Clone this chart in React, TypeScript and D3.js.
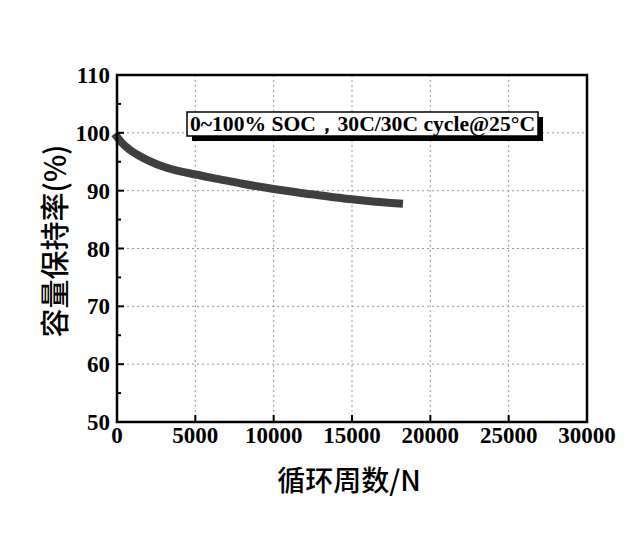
import React from "react";
import * as d3 from "d3";

// capacity retention curve
const cycles = [0, 300, 800, 1500, 2500, 3500, 5000, 6500, 8000, 10000, 11000, 12000, 13500, 15000, 16500, 18000];
const retention = [99.3, 98.3, 97.1, 95.9, 94.6, 93.7, 92.8, 92.0, 91.2, 90.3, 89.9, 89.5, 89.0, 88.5, 88.1, 87.8];

const xTicks = [0, 5000, 10000, 15000, 20000, 25000, 30000];
const yTicks = [50, 60, 70, 80, 90, 100, 110];
const yMinor = [55, 65, 75, 85, 95, 105];

const W = 637;
const H = 553;
const margin = { left: 117, right: 50, top: 75, bottom: 131 };

export default function App() {
  const x = d3.scaleLinear().domain([0, 30000]).range([margin.left, W - margin.right]);
  const y = d3.scaleLinear().domain([50, 110]).range([H - margin.bottom, margin.top]);

  const pts = cycles.map((c, i) => [c, retention[i]] as [number, number]);
  const line = d3
    .line<[number, number]>()
    .x((d) => x(d[0]))
    .y((d) => y(d[1]))
    .curve(d3.curveMonotoneX);

  const serif = "'Liberation Serif', 'DejaVu Serif', serif";
  const cjk = "'Noto Sans CJK SC', sans-serif";

  return (
    <svg
      width={W}
      height={H}
      style={{ position: "absolute", left: 0, top: 0, background: "#fff" }}
    >
      {/* grid */}
      {xTicks.slice(1, -1).map((t) => (
        <line key={"gx" + t} x1={x(t)} x2={x(t)} y1={y(110)} y2={y(50)} stroke="#999" strokeDasharray="2,3" strokeWidth={1} />
      ))}
      {yTicks.slice(1, -1).map((t) => (
        <line key={"gy" + t} x1={x(0)} x2={x(30000)} y1={y(t)} y2={y(t)} stroke="#999" strokeDasharray="2,3" strokeWidth={1} />
      ))}

      {/* curve */}
      <path d={line(pts) || ""} fill="none" stroke="#3f3f3f" strokeWidth={8} strokeLinecap="square" />

      {/* frame */}
      <rect x={x(0)} y={y(110)} width={x(30000) - x(0)} height={y(50) - y(110)} fill="none" stroke="#000" strokeWidth={2.5} />

      {/* ticks */}
      {xTicks.map((t) => (
        <g key={"xt" + t}>
          <line x1={x(t)} x2={x(t)} y1={y(50)} y2={y(50) - 7} stroke="#000" strokeWidth={2} />
          <text x={x(t)} y={y(50) + 21} textAnchor="middle" fontFamily={serif} fontWeight="bold" fontSize={23}>
            {t}
          </text>
        </g>
      ))}
      {yTicks.map((t) => (
        <g key={"yt" + t}>
          <line x1={x(0)} x2={x(0) + 7} y1={y(t)} y2={y(t)} stroke="#000" strokeWidth={2} />
          <text x={x(0) - 7} y={y(t) + 8} textAnchor="end" fontFamily={serif} fontWeight="bold" fontSize={23}>
            {t}
          </text>
        </g>
      ))}
      {yMinor.map((t) => (
        <line key={"ym" + t} x1={x(0)} x2={x(0) + 4} y1={y(t)} y2={y(t)} stroke="#000" strokeWidth={2} />
      ))}

      {/* legend box */}
      <rect x={192} y={117} width={351} height={24} fill="#000" />
      <rect x={187} y={112} width={351} height={24} fill="#fff" stroke="#000" strokeWidth={1.5} />
      <text
        x={190}
        y={131}
        fontFamily={serif}
        fontWeight="bold"
        fontSize={20}
        textLength={345}
        lengthAdjust="spacingAndGlyphs"
      >
        0~100% SOC，30C/30C cycle@25°C
      </text>

      {/* axis titles */}
      <text x={349} y={491} textAnchor="middle" fontFamily={cjk} fontSize={28} fontWeight="500">
        循环周数/N
      </text>
      <text
        transform={`translate(66, 241) rotate(-90)`}
        textAnchor="middle"
        fontFamily={cjk}
        fontSize={29}
        fontWeight="500"
      >
        容量保持率(%)
      </text>
    </svg>
  );
}
